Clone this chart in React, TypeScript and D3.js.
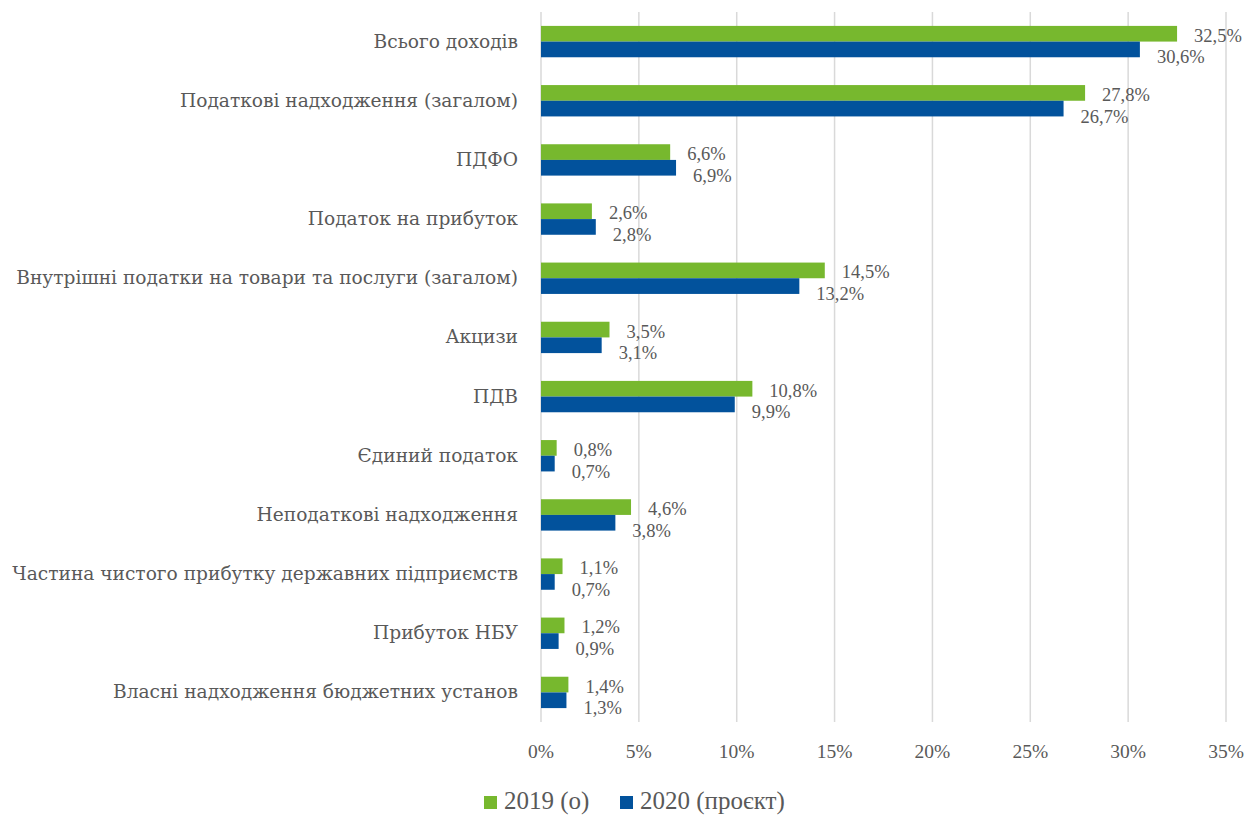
import React from "react";
import * as d3 from "d3";

const categories = [
  "Всього доходів",
  "Податкові надходження (загалом)",
  "ПДФО",
  "Податок на прибуток",
  "Внутрішні податки на товари та послуги (загалом)",
  "Акцизи",
  "ПДВ",
  "Єдиний податок",
  "Неподаткові надходження",
  "Частина чистого прибутку державних підприємств",
  "Прибуток НБУ",
  "Власні надходження бюджетних установ",
];
const values2019 = [32.5, 27.8, 6.6, 2.6, 14.5, 3.5, 10.8, 0.8, 4.6, 1.1, 1.2, 1.4];
const values2020 = [30.6, 26.7, 6.9, 2.8, 13.2, 3.1, 9.9, 0.7, 3.8, 0.7, 0.9, 1.3];
const ticks = [0, 5, 10, 15, 20, 25, 30, 35];
const seriesNames = ["2019 (о)", "2020 (проєкт)"];
const colors = ["#77b82e", "#02529c"];

const FONT = "'Liberation Serif', serif";
const CATFONT = "'DejaVu Serif', serif";
const fmt = (v: number) => v.toFixed(1).replace(".", ",") + "%";

export default function App() {
  const W = 1247, H = 816;
  const x = d3.scaleLinear().domain([0, 35]).range([541, 1226]);
  const y = d3.scaleBand<string>().domain(categories).range([12, 722]).paddingInner(0.47).paddingOuter(0.235);
  const bw = y.bandwidth() / 2;
  const series = [values2019, values2020];
  return (
    <svg width={W} height={H} style={{ position: "absolute", left: 0, top: 0, background: "#fff" }}>
      {ticks.map((t) => (
        <g key={t}>
          <line x1={x(t)} x2={x(t)} y1={12} y2={722} stroke="#d9d9d9" strokeWidth={1.5} />
          <text x={x(t)} y={758} textAnchor="middle" fontFamily={FONT} fontSize={19.5} fill="#595959">
            {t}%
          </text>
        </g>
      ))}
      {categories.map((c, i) => (
        <g key={c}>
          <text
            x={518}
            y={(y(c) as number) + y.bandwidth() / 2 + 6}
            textAnchor="end"
            fontFamily={CATFONT}
            fontSize={18.6}
            fill="#595959"
          >
            {c}
          </text>
          {series.map((s, k) => {
            const yy = (y(c) as number) + k * bw;
            return (
              <g key={k}>
                <rect x={x(0)} y={yy} width={x(s[i]) - x(0)} height={bw} fill={colors[k]} />
                <text
                  x={x(s[i]) + 17}
                  y={yy + bw / 2 + (k === 0 ? 8 : 14)}
                  fontFamily={FONT}
                  fontSize={18.5}
                  fill="#595959"
                >
                  {fmt(s[i])}
                </text>
              </g>
            );
          })}
        </g>
      ))}
      <g>
        <rect x={484} y={796} width={13} height={13} fill={colors[0]} />
        <text x={504} y={809} fontFamily={FONT} fontSize={25} fill="#595959">{seriesNames[0]}</text>
        <rect x={620} y={796} width={13} height={13} fill={colors[1]} />
        <text x={640} y={809} fontFamily={FONT} fontSize={25} fill="#595959">{seriesNames[1]}</text>
      </g>
    </svg>
  );
}
